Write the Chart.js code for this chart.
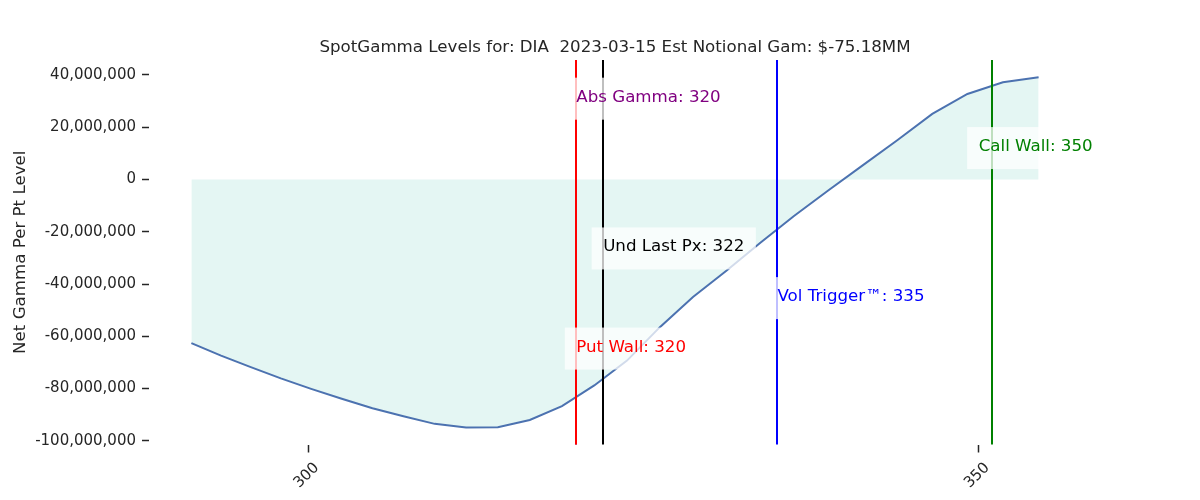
<!DOCTYPE html>
<html><head><meta charset="utf-8">
<script src="https://cdn.jsdelivr.net/npm/chart.js@4.4.1/dist/chart.umd.min.js"></script>
<style>html,body{margin:0;padding:0;background:#fff;}#wrap{width:1200px;height:500px;}</style>
</head><body><div id="wrap"><canvas id="c" width="1200" height="500"></canvas></div>
<script>
const strikes = [291.30, 293.51, 295.73, 297.97, 300.23, 302.51, 304.80, 307.11, 309.44, 311.78, 314.15, 316.53, 318.93, 321.34, 323.78, 326.23, 328.70, 331.19, 333.70, 336.23, 338.78, 341.35, 343.93, 346.54, 349.16, 351.81, 354.47];
const netGammaM = [-62.6, -67.4, -71.8, -76.1, -80.1, -83.9, -87.5, -90.6, -93.5, -94.9, -94.8, -92.0, -86.7, -78.8, -69.3, -56.5, -45.0, -34.9, -24.3, -14.0, -4.2, 5.4, 15.0, 25.1, 32.7, 37.2, 39.1];
const xTicks = [300, 350];
const yTicksM = [-100, -80, -60, -40, -20, 0, 20, 40];
const levelNames = ['Abs Gamma', 'Put Wall', 'Und Last Px', 'Vol Trigger\u2122', 'Call Wall'];
const levelValues = [320, 320, 322, 335, 351];
const levelLabelValues = [320, 320, 322, 335, 350];
const levelLabelYM = [30.9, -64.7, -26.4, -45.4, 12.0];
const levelColors = ['#800080', '#ff0000', '#000000', '#0000ff', '#008000'];
const titleText = 'SpotGamma Levels for: DIA  2023-03-15 Est Notional Gam: $-75.18MM';
const yTitle = 'Net Gamma Per Pt Level';

const FONT = '"DejaVu Sans", sans-serif';
const TXT = '#262626';

const overlay = {
  id: 'overlay',
  afterDatasetsDraw(chart) {
    const ctx = chart.ctx, xs = chart.scales.x, ys = chart.scales.y, ca = chart.chartArea;
    ctx.save();
    for (let i = 0; i < levelValues.length; i++) {
      const px = Math.round(xs.getPixelForValue(levelValues[i]));
      ctx.strokeStyle = levelColors[i];
      ctx.lineWidth = 2;
      ctx.beginPath();
      ctx.moveTo(px, ca.top);
      ctx.lineTo(px, ca.bottom);
      ctx.stroke();
    }
    ctx.font = '16.67px ' + FONT;
    for (let i = 0; i < levelNames.length; i++) {
      const txt = levelNames[i] + ': ' + levelLabelValues[i];
      const px = xs.getPixelForValue(levelLabelValues[i]);
      const cy = ys.getPixelForValue(levelLabelYM[i] * 1e6);
      const w = ctx.measureText(txt).width;
      ctx.fillStyle = 'rgba(255,255,255,0.75)';
      ctx.fillRect(px - 11.5, cy - 21, w + 23, 42);
      ctx.fillStyle = levelColors[i];
      ctx.textAlign = 'left';
      ctx.textBaseline = 'alphabetic';
      ctx.fillText(txt, px, cy + 3);
    }
    ctx.restore();
  },
  afterDraw(chart) {
    const ctx = chart.ctx, xs = chart.scales.x, ca = chart.chartArea;
    ctx.save();
    ctx.fillStyle = TXT;
    ctx.font = '16.67px ' + FONT;
    ctx.textAlign = 'center';
    ctx.textBaseline = 'alphabetic';
    ctx.fillText(titleText, (ca.left + ca.right) / 2, 52.3);
    ctx.save();
    ctx.translate(25, (ca.top + ca.bottom) / 2);
    ctx.rotate(-Math.PI / 2);
    ctx.fillText(yTitle, 0, 0);
    ctx.restore();
    ctx.font = '15px ' + FONT;
    ctx.textBaseline = 'middle';
    for (const v of xTicks) {
      const px = xs.getPixelForValue(v);
      ctx.save();
      ctx.translate(px - 1.5, ca.bottom + 31);
      ctx.rotate(-Math.PI / 4);
      ctx.fillText(String(v), 0, 0);
      ctx.restore();
    }
    ctx.restore();
  }
};

new Chart(document.getElementById('c'), {
  type: 'line',
  data: {
    datasets: [{
      data: strikes.map((x, i) => ({ x: x, y: netGammaM[i] * 1e6 })),
      borderColor: '#4c72b0',
      borderWidth: 2,
      pointRadius: 0,
      tension: 0,
      fill: 'origin',
      backgroundColor: '#e4f6f3'
    }]
  },
  options: {
    responsive: false,
    animation: false,
    layout: { padding: { top: 60, right: 119, bottom: 0, left: 0 } },
    plugins: { legend: { display: false }, tooltip: { enabled: false }, title: { display: false } },
    scales: {
      x: {
        type: 'linear',
        min: 288.14, max: 357.63,
        afterBuildTicks: s => { s.ticks = xTicks.map(v => ({ value: v })); },
        ticks: { display: false },
        grid: { drawOnChartArea: false, drawTicks: true, tickLength: 8, tickColor: TXT, tickWidth: 1.5 },
        border: { display: false },
        afterFit: s => { s.height = 55.5; }
      },
      y: {
        type: 'linear',
        min: -101.4e6, max: 45.7e6,
        afterBuildTicks: s => { s.ticks = yTicksM.map(v => ({ value: v * 1e6 })); },
        ticks: {
          font: { family: FONT, size: 15 },
          color: TXT,
          padding: 6,
          callback: v => Number(v).toLocaleString('en-US')
        },
        grid: { drawOnChartArea: false, drawTicks: true, tickLength: 7, tickColor: TXT, tickWidth: 1.5 },
        border: { display: false },
        afterFit: s => { s.width = 149; }
      }
    }
  },
  plugins: [overlay]
});
</script>
</body></html>
